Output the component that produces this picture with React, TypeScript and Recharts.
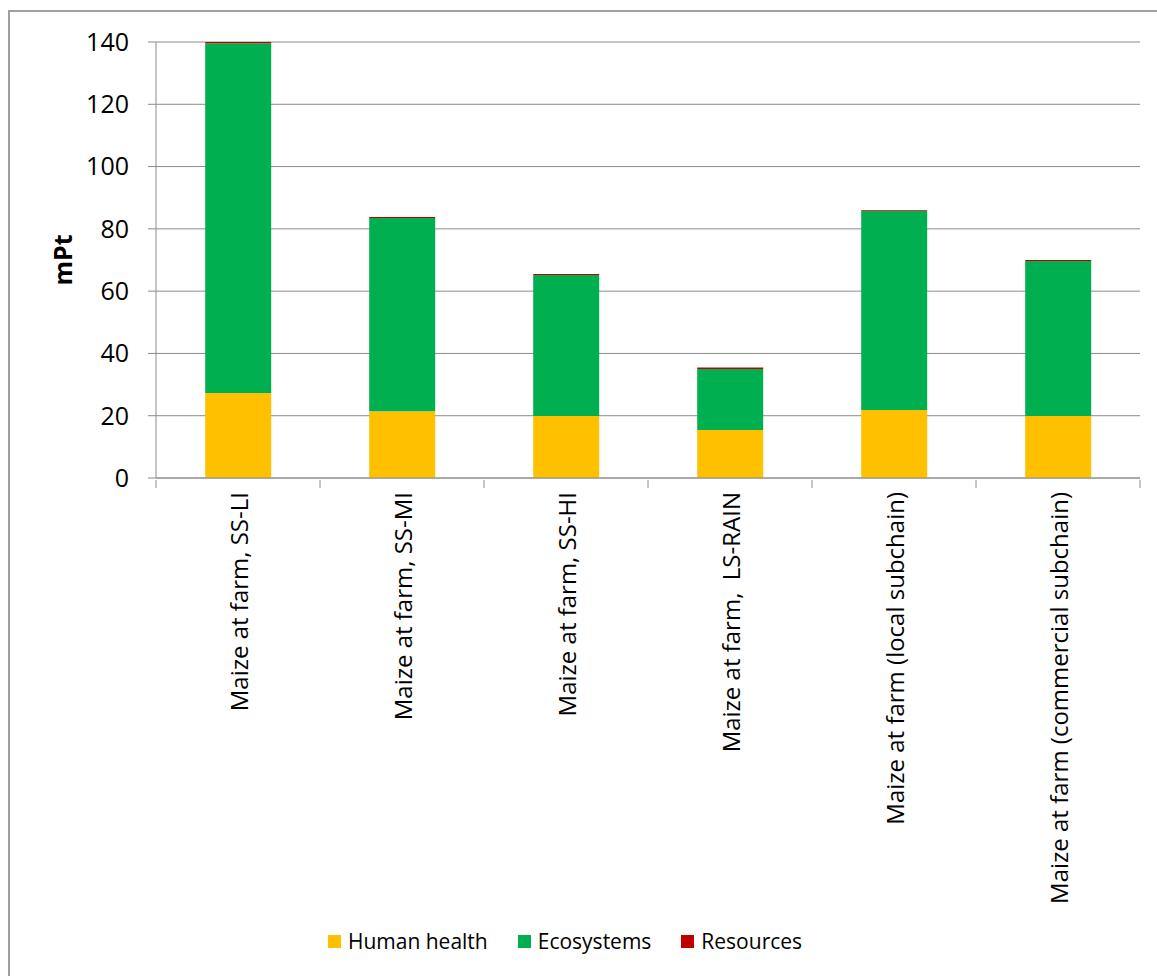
import React from "react";
import { BarChart, Bar, XAxis, YAxis, CartesianGrid, Legend } from "recharts";

const categories = [
  "Maize at farm, SS-LI",
  "Maize at farm, SS-MI",
  "Maize at farm, SS-HI",
  "Maize at farm,  LS-RAIN",
  "Maize at farm (local subchain)",
  "Maize at farm (commercial subchain)",
];
const humanHealth = [27.3, 21.4, 19.9, 15.4, 21.8, 19.9];
const ecosystems = [112.3, 62.1, 45.3, 19.6, 63.9, 49.8];
const resources = [0.4, 0.3, 0.3, 0.5, 0.3, 0.3];
const yTicks = [0, 20, 40, 60, 80, 100, 120, 140];

const series = [
  { key: "hh", name: "Human health", color: "#FFC000", values: humanHealth },
  { key: "eco", name: "Ecosystems", color: "#00B050", values: ecosystems },
  { key: "res", name: "Resources", color: "#C00000", values: resources },
];

const data = categories.map((name, i) => {
  const row: any = { name };
  series.forEach((s) => (row[s.key] = s.values[i]));
  return row;
});

const FONT = "'Open Sans', 'Noto Sans', sans-serif";
const AXIS = "#8c8c8c";

function CategoryTick(props: any) {
  const { x, y, payload, index, visibleTicksCount } = props;
  const half = payload.offset || 0;
  const top = y - 8; // y includes tickSize offset
  return (
    <g>
      <line x1={x - half} x2={x - half} y1={top} y2={top + 8} stroke={AXIS} />
      {index === visibleTicksCount - 1 && (
        <line x1={x + half} x2={x + half} y1={top} y2={top + 8} stroke={AXIS} />
      )}
      <text
        x={x}
        y={top + 12}
        transform={`rotate(-90, ${x}, ${top + 12})`}
        textAnchor="end"
        dominantBaseline="central"
        fontSize={24}
        fontFamily={FONT}
        fill="#000"
        style={{ whiteSpace: "pre" }}
      >
        {payload.value}
      </text>
    </g>
  );
}

function LegendContent() {
  return (
    <div
      style={{
        display: "flex",
        justifyContent: "center",
        gap: 30,
        fontFamily: FONT,
        fontSize: 21,
        paddingRight: 10,
      }}
    >
      {series.map((s) => (
        <div key={s.key} style={{ display: "flex", alignItems: "center" }}>
          <span style={{ width: 13, height: 13, background: s.color, marginRight: 7, display: "inline-block" }} />
          <span>{s.name}</span>
        </div>
      ))}
    </div>
  );
}

export default function App() {
  return (
    <div style={{ position: "absolute", left: 0, top: 0, width: 1157, height: 976, overflow: "hidden", background: "#fff" }}>
      <style>{"body{margin:0;overflow:hidden}"}</style>
      <div
        style={{
          position: "absolute",
          left: 8,
          top: 10,
          width: 1200,
          height: 1000,
          border: "2px solid #a0a0a0",
          boxSizing: "border-box",
        }}
      />
      <div style={{ position: "absolute", left: 0, top: 0 }}>
        <BarChart
          width={1157}
          height={976}
          data={data}
          margin={{ top: 42, right: 17, bottom: 19, left: 0 }}
          barCategoryGap="30%"
        >
          <CartesianGrid vertical={false} stroke={AXIS} strokeWidth={1} />
          <XAxis
            dataKey="name"
            interval={0}
            height={449}
            tickLine={false}
            tickSize={8}
            axisLine={{ stroke: AXIS }}
            tick={<CategoryTick />}
          />
          <YAxis
            width={156}
            domain={[0, 140]}
            ticks={yTicks}
            tickSize={8}
            tickMargin={19}
            axisLine={{ stroke: AXIS }}
            tickLine={{ stroke: AXIS }}
            tick={{ fontSize: 25, fontFamily: FONT, fill: "#000" }}
            label={{
              content: (p: any) => {
                const vb = p.viewBox;
                const cx = vb.x + 62;
                const cy = vb.y + vb.height / 2;
                return (
                  <text
                    x={cx}
                    y={cy}
                    transform={`rotate(-90, ${cx}, ${cy})`}
                    textAnchor="middle"
                    dominantBaseline="central"
                    fontSize={25}
                    fontWeight="bold"
                    fontFamily={FONT}
                  >
                    mPt
                  </text>
                );
              },
            }}
          />
          {series.map((s) => (
            <Bar key={s.key} dataKey={s.key} name={s.name} stackId="a" fill={s.color} isAnimationActive={false} />
          ))}
          <Legend verticalAlign="bottom" height={30} content={<LegendContent />} />
        </BarChart>
      </div>
    </div>
  );
}
